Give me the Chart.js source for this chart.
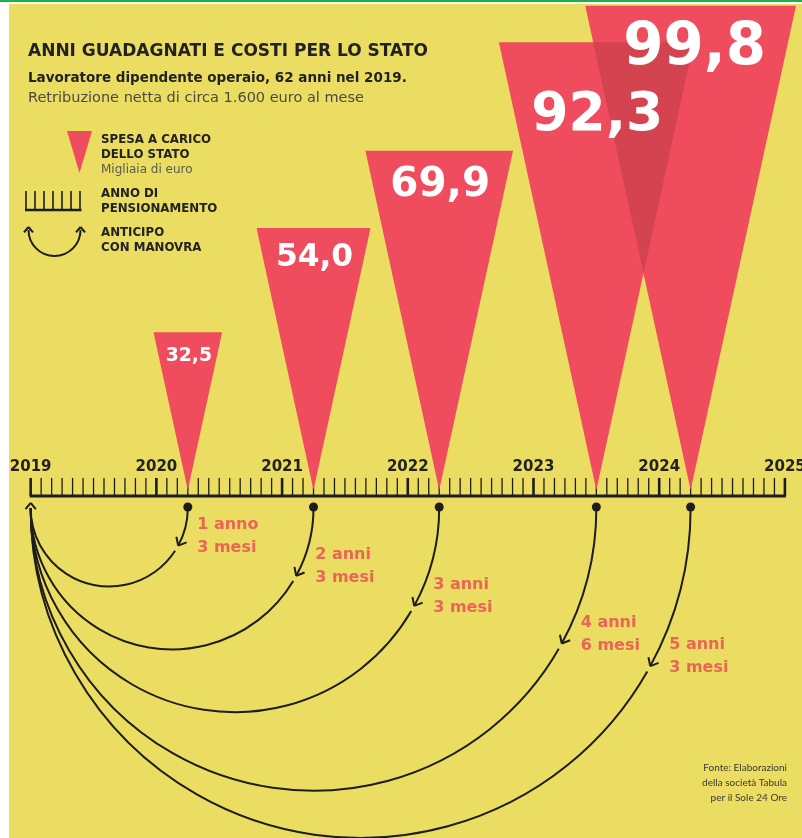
<!DOCTYPE html>
<html>
<head>
<meta charset="utf-8">
<script src="https://cdn.jsdelivr.net/npm/chart.js@4"></script>
<style>
  body { margin: 0; background: #fff; }
  #wrap { width: 802px; height: 838px; position: relative; }
</style>
</head>
<body>
<div id="wrap"><canvas id="myChart"></canvas></div>
<script>
// data
const startYear = 2019;
const yearLabels = ['2019', '2020', '2021', '2022', '2023', '2024', '2025'];
const anticipo = [1.25, 2.25, 3.25, 4.5, 5.25]; // years gained (1a3m, 2a3m, 3a3m, 4a6m, 5a3m)
const spesa = [32.5, 54.0, 69.9, 92.3, 99.8]; // migliaia di euro
const spesaLabels = ['32,5', '54,0', '69,9', '92,3', '99,8'];
const anticipoLabels = [
  ['1 anno', '3 mesi'],
  ['2 anni', '3 mesi'],
  ['3 anni', '3 mesi'],
  ['4 anni', '6 mesi'],
  ['5 anni', '3 mesi'],
];

const YELLOW = '#EBDC62';
const RED = '#EF4C5E';
const SALMON = '#EA6558';
const INK = '#1d1d1b';
const SHAPE = 0.0084; // half width of triangle (years) per unit of value

const datasets = spesa.map(function (v, i) {
  const t = startYear + anticipo[i];
  const h = v * SHAPE;
  return {
    label: spesaLabels[i],
    data: [{ x: t - h, y: v }, { x: t, y: 0 }, { x: t + h, y: v }],
    backgroundColor: RED,
    borderWidth: 0,
    pointRadius: 0,
    tension: 0,
    fill: { value: v },
  };
});

function triPath(ctx, chart, i) {
  const xs = chart.scales.x, ys = chart.scales.y;
  const v = spesa[i], t = startYear + anticipo[i], h = v * SHAPE;
  ctx.beginPath();
  ctx.moveTo(xs.getPixelForValue(t - h), ys.getPixelForValue(v));
  ctx.lineTo(xs.getPixelForValue(t), ys.getPixelForValue(0));
  ctx.lineTo(xs.getPixelForValue(t + h), ys.getPixelForValue(v));
  ctx.closePath();
}

function chevron(ctx, px, py, dx, dy, len) {
  // arrow head with tip at (px,py) pointing along (dx,dy)
  const a = 0.7;
  ctx.beginPath();
  for (const s of [-1, 1]) {
    const c = Math.cos(a * s), sn = Math.sin(a * s);
    const rx = dx * c - dy * sn, ry = dx * sn + dy * c;
    ctx.moveTo(px, py);
    ctx.lineTo(px - rx * len, py - ry * len);
  }
  ctx.stroke();
}

const infographic = {
  id: 'infographic',
  beforeDraw(chart) {
    const ctx = chart.ctx;
    ctx.save();
    ctx.fillStyle = '#ffffff';
    ctx.fillRect(0, 0, chart.width, chart.height);
    ctx.fillStyle = YELLOW;
    ctx.fillRect(9, 4, chart.width - 9, chart.height - 4);
    ctx.fillStyle = '#1fb04a';
    ctx.fillRect(0, 0, chart.width, 2);

    // titles
    ctx.textBaseline = 'middle';
    ctx.textAlign = 'left';
    ctx.fillStyle = '#222';
    ctx.font = 'bold 17px "DejaVu Sans"';
    ctx.fillText('ANNI GUADAGNATI E COSTI PER LO STATO', 28, 52);
    ctx.font = 'bold 13.5px "DejaVu Sans"';
    ctx.fillText('Lavoratore dipendente operaio, 62 anni nel 2019.', 28, 78);
    ctx.fillStyle = '#4a4a44';
    ctx.font = '14.5px "DejaVu Sans"';
    ctx.fillText('Retribuzione netta di circa 1.600 euro al mese', 28, 98);

    // legend
    ctx.fillStyle = RED;
    ctx.beginPath();
    ctx.moveTo(67, 131); ctx.lineTo(92, 131); ctx.lineTo(79.5, 173); ctx.closePath();
    ctx.fill();

    ctx.strokeStyle = INK;
    ctx.lineWidth = 1.6;
    [26, 35, 44, 53, 62, 71, 80].forEach(function (lx) {
      ctx.beginPath(); ctx.moveTo(lx, 191); ctx.lineTo(lx, 210); ctx.stroke();
    });
    ctx.lineWidth = 2.5;
    ctx.beginPath(); ctx.moveTo(25, 210); ctx.lineTo(81.5, 210); ctx.stroke();

    ctx.lineWidth = 2;
    ctx.beginPath(); ctx.arc(54.5, 230, 26, 0, Math.PI); ctx.stroke();
    chevron(ctx, 28.5, 227, 0, -1, 7);
    chevron(ctx, 80.5, 227, 0, -1, 7);

    ctx.fillStyle = '#222';
    ctx.font = 'bold 11.8px "DejaVu Sans"';
    ctx.fillText('SPESA A CARICO', 101, 140);
    ctx.fillText('DELLO STATO', 101, 155);
    ctx.fillText('ANNO DI', 101, 194);
    ctx.fillText('PENSIONAMENTO', 101, 209);
    ctx.fillText('ANTICIPO', 101, 233);
    ctx.fillText('CON MANOVRA', 101, 248);
    ctx.fillStyle = '#5a5a50';
    ctx.font = '12px "DejaVu Sans"';
    ctx.fillText('Migliaia di euro', 101, 170);

    // source
    ctx.textAlign = 'right';
    ctx.fillStyle = '#3a3a34';
    ctx.font = '10px Lato';
    ctx.fillText('Fonte: Elaborazioni', 787, 768);
    ctx.fillText('della società Tabula', 787, 783);
    ctx.fillText('per il Sole 24 Ore', 787, 798);
    ctx.restore();
  },
  beforeDatasetsDraw(chart) {
    // ruler: monthly ticks, bolder at each year
    const ctx = chart.ctx, xs = chart.scales.x;
    const y0 = chart.scales.y.getPixelForValue(0);
    const base = y0 + 6;
    ctx.save();
    ctx.strokeStyle = INK;
    const nYears = yearLabels.length - 1;
    for (let m = 0; m <= nYears * 12; m++) {
      const px = xs.getPixelForValue(startYear + m / 12);
      ctx.lineWidth = m % 12 === 0 ? 2.6 : 1.3;
      ctx.beginPath(); ctx.moveTo(px, base); ctx.lineTo(px, base - 18); ctx.stroke();
    }
    ctx.lineWidth = 3;
    ctx.beginPath();
    ctx.moveTo(xs.getPixelForValue(startYear) - 1, base);
    ctx.lineTo(xs.getPixelForValue(startYear + nYears) + 1, base);
    ctx.stroke();

    ctx.fillStyle = '#222';
    ctx.font = 'bold 15px "DejaVu Sans"';
    ctx.textAlign = 'center';
    ctx.textBaseline = 'middle';
    yearLabels.forEach(function (lab, i) {
      ctx.fillText(lab, xs.getPixelForValue(startYear + i), base - 29);
    });
    ctx.restore();
  },
  afterDatasetsDraw(chart) {
    const ctx = chart.ctx, xs = chart.scales.x, ys = chart.scales.y;
    const y0 = ys.getPixelForValue(0);
    ctx.save();

    // darker where triangles overlap
    for (let i = 0; i < spesa.length - 1; i++) {
      ctx.save();
      triPath(ctx, chart, i);
      ctx.clip();
      triPath(ctx, chart, i + 1);
      ctx.fillStyle = 'rgba(60,20,0,0.15)';
      ctx.fill();
      ctx.restore();
    }

    // values inside triangles
    ctx.fillStyle = '#ffffff';
    ctx.textAlign = 'center';
    ctx.textBaseline = 'middle';
    spesa.forEach(function (v, i) {
      const size = v * 0.58;
      const top = ys.getPixelForValue(v);
      let drop = size * 0.5 + 14;
      if (i === 3) drop += 33; // sits below the neighbouring label
      ctx.font = 'bold ' + size.toFixed(1) + 'px "DejaVu Sans"';
      ctx.fillText(spesaLabels[i], xs.getPixelForValue(startYear + anticipo[i]) + (i === 4 ? 4 : 1), top + drop);
    });

    // dots, arcs and arrows
    const x0 = xs.getPixelForValue(startYear);
    const cy = y0 + 18;
    const ang = 0.5;
    ctx.strokeStyle = INK;
    ctx.fillStyle = INK;
    ctx.lineWidth = 2;
    anticipo.forEach(function (a, i) {
      const xd = xs.getPixelForValue(startYear + a);
      const cx = (x0 + xd) / 2, r = (xd - x0) / 2;
      ctx.beginPath(); ctx.arc(xd, y0 + 17, 4.5, 0, Math.PI * 2); ctx.fill();
      ctx.beginPath(); ctx.arc(cx, cy, r, 0, ang); ctx.stroke();
      ctx.beginPath(); ctx.arc(cx, cy, r, ang + 6 / r, Math.PI); ctx.stroke();
      const px = cx + r * Math.cos(ang), py = cy + r * Math.sin(ang);
      chevron(ctx, px, py, -Math.sin(ang), Math.cos(ang), 9);

      ctx.save();
      ctx.fillStyle = SALMON;
      ctx.font = 'bold 16px "DejaVu Sans"';
      ctx.textAlign = 'left';
      ctx.textBaseline = 'middle';
      ctx.fillText(anticipoLabels[i][0], px + 19, py - 21);
      ctx.fillText(anticipoLabels[i][1], px + 19, py + 2);
      ctx.restore();
    });
    chevron(ctx, x0, cy - 5, 0, -1, 8);
    ctx.restore();
  },
};

document.addEventListener('DOMContentLoaded', function () {
  const ctx = document.getElementById('myChart');
  new Chart(ctx, {
    type: 'line',
    data: { datasets: datasets },
    options: {
      responsive: true,
      maintainAspectRatio: false,
      animation: false,
      devicePixelRatio: 1,
      layout: { padding: 0 },
      scales: {
        x: { type: 'linear', min: 2018.756, max: 2025.136, display: false },
        y: { type: 'linear', min: -71.75, max: 101, display: false },
      },
      plugins: {
        legend: { display: false },
        tooltip: { enabled: false },
      },
    },
    plugins: [infographic],
  });
});
</script>
</body>
</html>
